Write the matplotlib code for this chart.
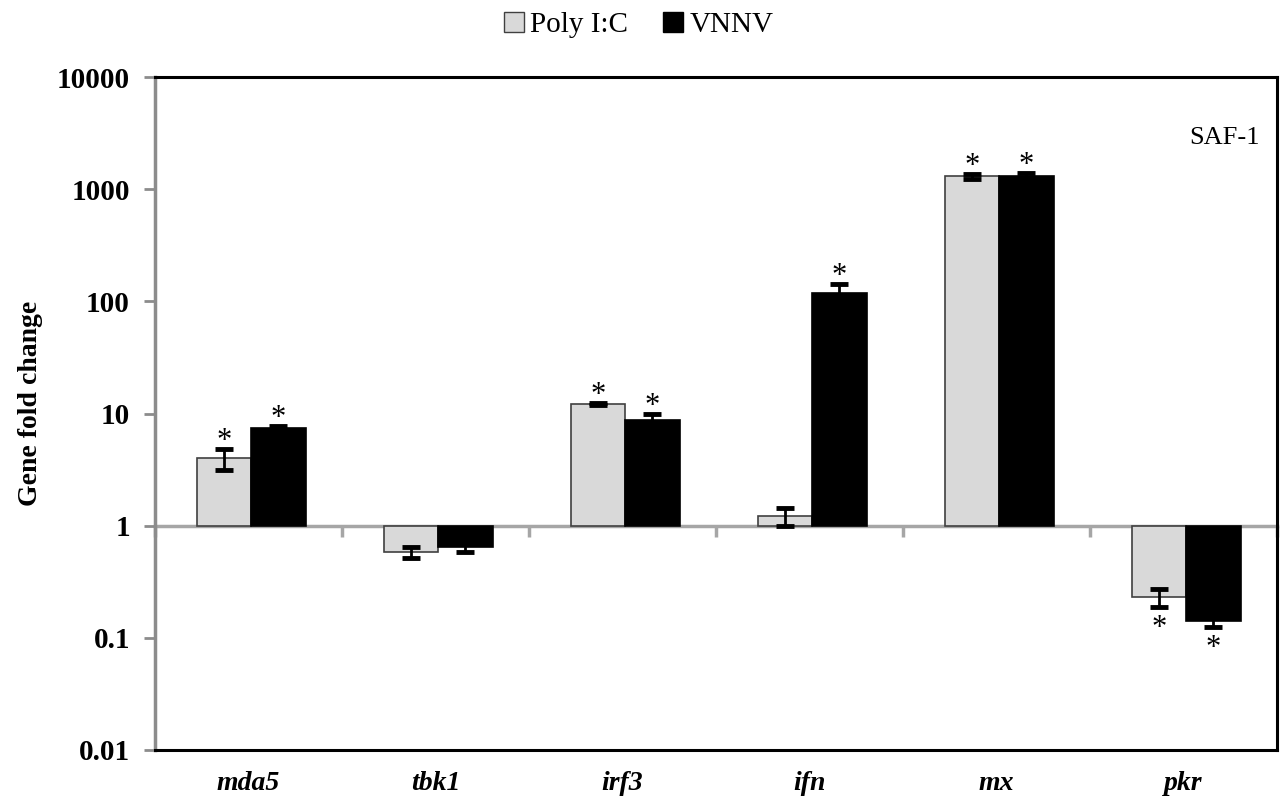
import numpy as np
import matplotlib
matplotlib.use("Agg")
import matplotlib.pyplot as plt
from matplotlib.patches import Patch

categories = ['mda5', 'tbk1', 'irf3', 'ifn', 'mx', 'pkr']
poly = [4.0, 0.58, 12.1, 1.22, 1300, 0.23]
poly_err = [0.85, 0.06, 0.3, 0.23, 60, 0.04]
vnnv = [7.4, 0.65, 8.8, 119, 1300, 0.14]
vnnv_err = [0.3, 0.07, 1.0, 25, 100, 0.015]
sig_poly = [True, False, True, False, True, True]
sig_vnnv = [True, False, True, True, True, True]
series_names = ['Poly I:C', 'VNNV']
yticks = [0.01, 0.1, 1, 10, 100, 1000, 10000]
ytick_labels = ['0.01', '0.1', '1', '10', '100', '1000', '10000']
baseline = 1
ylim = (0.01, 10000)

plt.rcParams['font.family'] = ['Liberation Serif', 'DejaVu Serif']

fig = plt.figure(figsize=(12.82, 8.11), dpi=100)
ax = fig.add_axes([155/1282, 61/811, (1277-155)/1282, (750-77)/811])
ax.set_yscale('log')
ax.set_ylim(*ylim)
n = len(categories)
x = np.arange(n)
w = 0.29
ax.set_xlim(-0.5, n - 0.5)

colors = ['#d9d9d9', '#000000']
edges = ['#404040', '#000000']
for i, (vals, errs, sig) in enumerate([(poly, poly_err, sig_poly), (vnnv, vnnv_err, sig_vnnv)]):
    vals = np.array(vals, float)
    errs = np.array(errs, float)
    xs = x + (i - 0.5) * w + 0.015
    ax.bar(xs, vals - baseline, bottom=baseline, width=w, color=colors[i],
           edgecolor=edges[i], linewidth=1.2, zorder=2)
    ax.errorbar(xs, vals, yerr=errs, fmt='none', ecolor='black', elinewidth=2,
                capsize=6.5, capthick=3.5, zorder=3)
    for xi, v, e, s in zip(xs, vals, errs, sig):
        if not s:
            continue
        if v >= baseline:
            ax.annotate('*', (xi, v + e), xytext=(0, 0), textcoords='offset points',
                        ha='center', va='baseline', fontsize=22, zorder=4)
        else:
            ax.annotate('*', (xi, v - e), xytext=(0, -21), textcoords='offset points',
                        ha='center', va='baseline', fontsize=22, zorder=4)

# frame
for side in ['top', 'right', 'bottom']:
    ax.spines[side].set_color('black')
    ax.spines[side].set_linewidth(2.2)
ax.spines['left'].set_color('#8c8c8c')
ax.spines['left'].set_linewidth(2.5)

ax.set_yticks(yticks)
ax.set_yticklabels(ytick_labels)
ax.yaxis.set_minor_locator(matplotlib.ticker.NullLocator())
ax.tick_params(axis='y', direction='out', length=8, width=2, color='#8c8c8c',
               labelsize=21, pad=10)
for t in ax.get_yticklabels():
    t.set_fontweight('bold')

ax.set_xticks(x)
ax.set_xticklabels(categories, fontsize=20, fontweight='bold', fontstyle='italic')
ax.tick_params(axis='x', length=0, pad=15)

# axis crossing at baseline
frac = (np.log10(baseline) - np.log10(ylim[0])) / (np.log10(ylim[1]) - np.log10(ylim[0]))
sec = ax.secondary_xaxis(frac)
sec.spines['bottom'].set_color('#a6a6a6')
sec.spines['bottom'].set_linewidth(2.5)
sec.spines['top'].set_visible(False)
sec.set_xticks(np.arange(n + 1) - 0.5)
sec.set_xticklabels([])
sec.tick_params(axis='x', direction='out', length=8, width=2.5, color='#a6a6a6')

ax.set_ylabel('Gene fold change', fontsize=20, fontweight='bold')
ax.yaxis.set_label_coords(-0.1, 0.515)

ax.text(0.985, 0.91, 'SAF-1', transform=ax.transAxes, ha='right', va='center', fontsize=19)

handles = [Patch(facecolor=colors[0], edgecolor='#404040', linewidth=1),
           Patch(facecolor=colors[1], edgecolor='black', linewidth=1)]
fig.legend(handles, series_names, loc='upper center', bbox_to_anchor=(0.498, 1.018), ncol=2,
           frameon=False, fontsize=21, handlelength=0.7, handleheight=0.7,
           handletextpad=0.2, columnspacing=1.2)

fig.savefig('out.png', dpi=100)
